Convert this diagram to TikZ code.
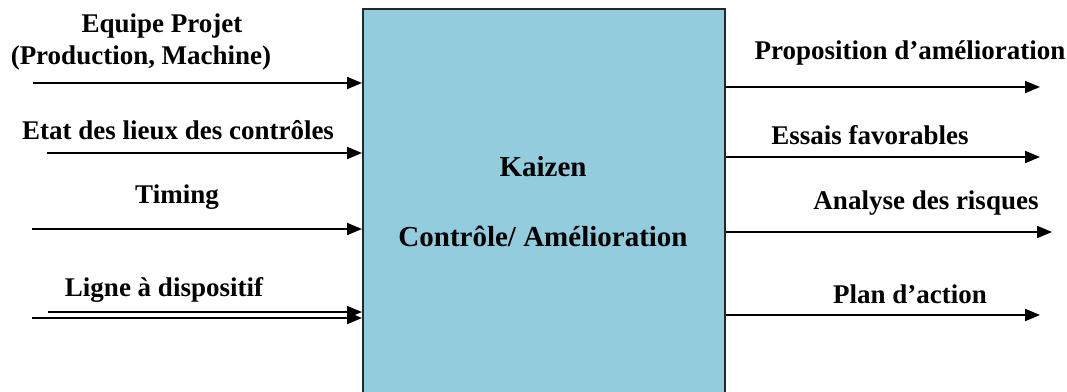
\documentclass[tikz,border=0pt]{standalone}
\usepackage{fontspec}
\setmainfont{Liberation Serif}
\usetikzlibrary{arrows.meta}
\definecolor{boxblue}{RGB}{147,205,221}
\begin{document}
\begin{tikzpicture}[x=1pt,y=-1pt,
  arr/.style={line width=2pt,-{Triangle[length=15pt,width=12pt]}},
  thinarr/.style={line width=1.3pt,-{Triangle[length=15pt,width=12pt]}},
  lbl/.style={font=\fontsize{27}{30}\selectfont\bfseries,inner sep=0pt,anchor=center},
  big/.style={font=\fontsize{29}{32}\selectfont\bfseries,inner sep=0pt,anchor=center}]
\useasboundingbox (0,0) rectangle (1067,391);
\begin{scope}
\clip (0,0) rectangle (1067,391);
\node[draw=black!85,line width=1.6pt,fill=boxblue,minimum width=362pt,minimum height=400pt,inner sep=0pt,anchor=north west] (kaizen) at (362,8) {};
\end{scope}
\node[big] (k1) at (543,167) {Kaizen};
\node[big] (k2) at (543,236) {Contrôle/ Amélioration};
% inputs
\coordinate (i1) at (33,83);
\coordinate (i2) at (47,153);
\coordinate (i3) at (32,229);
\coordinate (i4a) at (48,312);
\coordinate (i4b) at (32,318);
\draw[arr] (i1) -- (i1 -| kaizen.west);
\draw[arr] (i2) -- (i2 -| kaizen.west);
\draw[arr] (i3) -- (i3 -| kaizen.west);
\draw[thinarr] (i4a) -- (i4a -| kaizen.west);
\draw[arr] (i4b) -- (i4b -| kaizen.west);
\node[lbl] (l1a) at (162,26) {Equipe Projet};
\node[lbl] (l1b) at (141,58) {(Production, Machine)};
\node[lbl] (l2) at (178,130) {Etat des lieux des contrôles};
\node[lbl] (l3) at (177,197) {Timing};
\node[lbl] (l4) at (164,290) {Ligne à dispositif};
% outputs
\coordinate (o1) at (1040,87);
\coordinate (o2) at (1040,157);
\coordinate (o3) at (1052,232);
\coordinate (o4) at (1040,315);
\draw[arr] (o1 -| kaizen.east) -- (o1);
\draw[arr] (o2 -| kaizen.east) -- (o2);
\draw[arr] (o3 -| kaizen.east) -- (o3);
\draw[arr] (o4 -| kaizen.east) -- (o4);
\node[lbl] (r1) at (910,53) {Proposition d’amélioration};
\node[lbl] (r2) at (870,135) {Essais favorables};
\node[lbl] (r3) at (926,203) {Analyse des risques};
\node[lbl] (r4) at (910,294) {Plan d’action};
\end{tikzpicture}
\end{document}
